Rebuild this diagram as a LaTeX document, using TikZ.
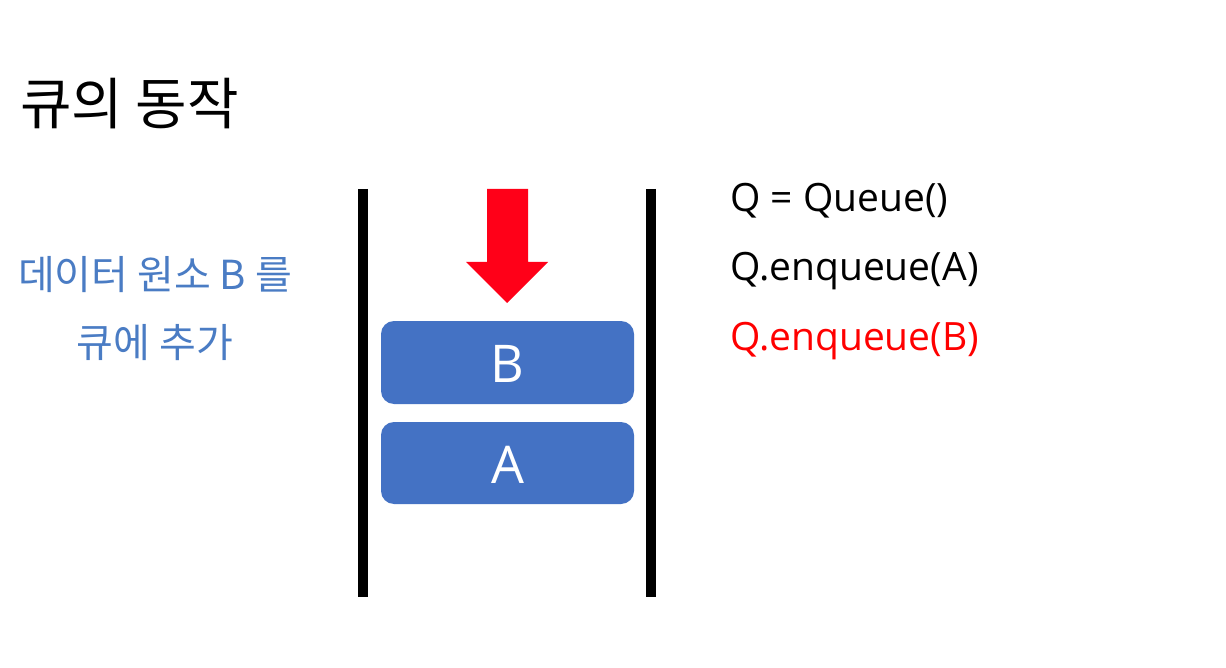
\documentclass[tikz,border=0pt]{standalone}
\usepackage{fontspec}
\newfontfamily\kr{Noto Sans CJK KR}
\newfontfamily\lat{Open Sans}
\definecolor{boxblue}{HTML}{4472C4}
\definecolor{txtblue}{HTML}{4A7CC4}
\definecolor{arrred}{HTML}{FF0018}
\tikzset{
  wall/.style={line width=10pt},
  elem/.style={fill=boxblue, rounded corners=13pt},
  elemtext/.style={text=white, inner sep=0pt, font=\lat\fontsize{52}{56}\selectfont},
  codeline/.style={anchor=west, inner sep=0pt, font=\lat\fontsize{39}{44}\selectfont},
}
\begin{document}
\begin{tikzpicture}[x=1pt,y=-1pt]
\useasboundingbox (0,0) rectangle (1226,668);
\fill[white] (0,0) rectangle (1226,668);
\node[anchor=west, inner sep=0pt, font=\kr\fontsize{56}{60}\selectfont] (title) at (20,104) {큐의 동작};
\node[align=center, inner sep=0pt, text=txtblue, font=\kr\fontsize{40}{68}\selectfont] (desc) at (155,309) {데이터 원소 B 를\\큐에 추가};
\coordinate (lt) at (363,189); \coordinate (lb) at (363,597);
\coordinate (rt) at (651,189); \coordinate (rb) at (651,597);
\draw[wall] (lt) -- (lb);
\draw[wall] (rt) -- (rb);
\fill[arrred] (487,189) -- (528,189) -- (528,262) -- (548,262) -- (507,303) -- (466,262) -- (487,262) -- cycle;
\path[elem] (381,321) rectangle (634,404);
\node[elemtext] (B) at (507.5,364) {B};
\path[elem] (381,422) rectangle (634,504);
\node[elemtext] (A) at (507.5,465) {A};
\node[codeline] (c1) at (730,201) {Q = Queue()};
\node[codeline] (c2) at (730,271) {Q.enqueue(A)};
\node[codeline, text=red] (c3) at (730,341) {Q.enqueue(B)};
\end{tikzpicture}
\end{document}
